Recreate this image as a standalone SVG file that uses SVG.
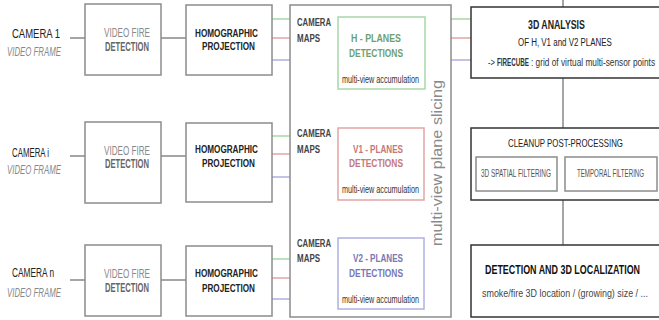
<svg xmlns="http://www.w3.org/2000/svg" width="659" height="320" viewBox="0 0 659 320">
<style>
text{font-family:"Liberation Sans",Arial,sans-serif;fill:#333}
.cam{font-size:12px;fill:#222}
.vf{font-size:12px;font-style:italic;fill:#888}
.box{fill:#fff;stroke:#8c8c8c;stroke-width:1.5}
.rbox{fill:#fff;stroke:#333;stroke-width:1.5}
.l1{font-size:12px;fill:#8a8a8a}
.b1{font-size:12px;font-weight:bold;fill:#666}
.hb{font-size:11.5px;font-weight:bold;fill:#222}
.mp{font-size:11px;font-weight:bold;fill:#444}
.acc{font-size:10px;fill:#333}
.g{stroke:#a8d8a8}
.r{stroke:#e3a5a5}
.b{stroke:#b0b0e0}
.conn{stroke:#888;stroke-width:1.5;fill:none}
</style>
<g id="connectors" fill="none">
<path class="conn" d="M70 38H85M161 38H186M70 156H85M161 156H186M70 280H85M161 280H186"/>
<path class="conn" d="M326 39H334M326 149H334M326 258H334" stroke="#333"/>
<path class="conn" d="M563 0V7M563 78V128M563 200V245" stroke="#777"/>
<g stroke-width="1.5">
<path class="g" d="M272 19H290M451 19H471M272 136H290M272 259H290"/>
<path class="r" d="M272 38H290M451 38H471M272 154H290M272 278H290"/>
<path class="b" d="M272 60H290M451 60H471M272 177H290M272 299H290"/>
</g>
</g>
<g id="camera1"><text class="cam" x="12" y="38" textLength="48" lengthAdjust="spacingAndGlyphs">CAMERA 1</text><text class="vf" x="7" y="56" textLength="54" lengthAdjust="spacingAndGlyphs">VIDEO FRAME</text></g>
<g id="camerai"><text class="cam" x="12" y="157" textLength="37" lengthAdjust="spacingAndGlyphs">CAMERA i</text><text class="vf" x="7" y="174" textLength="54" lengthAdjust="spacingAndGlyphs">VIDEO FRAME</text></g>
<g id="cameran"><text class="cam" x="12" y="277" textLength="42" lengthAdjust="spacingAndGlyphs">CAMERA n</text><text class="vf" x="7" y="297" textLength="54" lengthAdjust="spacingAndGlyphs">VIDEO FRAME</text></g>
<g id="vfd1"><rect class="box" x="85" y="4" width="76" height="71"/><text class="l1" x="104" y="37" textLength="46" lengthAdjust="spacingAndGlyphs">VIDEO FIRE</text><text class="b1" x="105" y="51" textLength="44" lengthAdjust="spacingAndGlyphs">DETECTION</text></g>
<g id="vfdi"><rect class="box" x="85" y="122" width="76" height="81"/><text class="l1" x="104" y="155" textLength="46" lengthAdjust="spacingAndGlyphs">VIDEO FIRE</text><text class="b1" x="105" y="168" textLength="44" lengthAdjust="spacingAndGlyphs">DETECTION</text></g>
<g id="vfdn"><rect class="box" x="85" y="245" width="76" height="71"/><text class="l1" x="104" y="278" textLength="46" lengthAdjust="spacingAndGlyphs">VIDEO FIRE</text><text class="b1" x="105" y="292" textLength="44" lengthAdjust="spacingAndGlyphs">DETECTION</text></g>
<g id="homo1"><rect class="box" x="186" y="5" width="86" height="70"/><text class="hb" x="195" y="37" textLength="63" lengthAdjust="spacingAndGlyphs">HOMOGRAPHIC</text><text class="hb" x="202" y="50" textLength="53" lengthAdjust="spacingAndGlyphs">PROJECTION</text></g>
<g id="homoi"><rect class="box" x="186" y="123" width="86" height="79"/><text class="hb" x="195" y="153" textLength="63" lengthAdjust="spacingAndGlyphs">HOMOGRAPHIC</text><text class="hb" x="202" y="167" textLength="53" lengthAdjust="spacingAndGlyphs">PROJECTION</text></g>
<g id="homon"><rect class="box" x="186" y="246" width="86" height="70"/><text class="hb" x="195" y="277" textLength="63" lengthAdjust="spacingAndGlyphs">HOMOGRAPHIC</text><text class="hb" x="202" y="292" textLength="53" lengthAdjust="spacingAndGlyphs">PROJECTION</text></g>
<g id="slicing"><rect class="box" x="290" y="5" width="161" height="312"/><text x="0" y="0" transform="translate(442 163) rotate(-90)" text-anchor="middle" font-size="14" textLength="166" lengthAdjust="spacingAndGlyphs" style="fill:#8a8a8a">multi-view plane slicing</text></g>
<g id="maps1"><text class="mp" x="297" y="26" textLength="34" lengthAdjust="spacingAndGlyphs">CAMERA</text><text class="mp" x="297" y="42" textLength="23" lengthAdjust="spacingAndGlyphs">MAPS</text></g>
<g id="mapsi"><text class="mp" x="297" y="137" textLength="34" lengthAdjust="spacingAndGlyphs">CAMERA</text><text class="mp" x="297" y="153" textLength="23" lengthAdjust="spacingAndGlyphs">MAPS</text></g>
<g id="mapsn"><text class="mp" x="297" y="247" textLength="34" lengthAdjust="spacingAndGlyphs">CAMERA</text><text class="mp" x="297" y="262" textLength="23" lengthAdjust="spacingAndGlyphs">MAPS</text></g>
<g id="hplanes"><rect x="338" y="17" width="87" height="72" fill="#fff" stroke="#a8d8a8" stroke-width="1.5"/><text x="351" y="42" font-size="11.5" font-weight="bold" style="fill:#6f9f6f" textLength="50" lengthAdjust="spacingAndGlyphs">H - PLANES</text><text x="349" y="57" font-size="11.5" font-weight="bold" style="fill:#6f9f6f" textLength="54" lengthAdjust="spacingAndGlyphs">DETECTIONS</text><text class="acc" x="342" y="83" textLength="77" lengthAdjust="spacingAndGlyphs">multi-view accumulation</text></g>
<g id="v1planes"><rect x="338" y="128" width="86" height="72" fill="#fff" stroke="#e3a5a5" stroke-width="1.5"/><text x="353" y="153" font-size="11.5" font-weight="bold" style="fill:#c47878" textLength="50" lengthAdjust="spacingAndGlyphs">V1 - PLANES</text><text x="349" y="167" font-size="11.5" font-weight="bold" style="fill:#c47878" textLength="54" lengthAdjust="spacingAndGlyphs">DETECTIONS</text><text class="acc" x="342" y="193" textLength="77" lengthAdjust="spacingAndGlyphs">multi-view accumulation</text></g>
<g id="v2planes"><rect x="338" y="238" width="86" height="71" fill="#fff" stroke="#b0b0e0" stroke-width="1.5"/><text x="353" y="262" font-size="11.5" font-weight="bold" style="fill:#7878b4" textLength="50" lengthAdjust="spacingAndGlyphs">V2 - PLANES</text><text x="349" y="277" font-size="11.5" font-weight="bold" style="fill:#7878b4" textLength="54" lengthAdjust="spacingAndGlyphs">DETECTIONS</text><text class="acc" x="342" y="303" textLength="77" lengthAdjust="spacingAndGlyphs">multi-view accumulation</text></g>
<g id="analysis"><rect class="rbox" x="471" y="7" width="190" height="71"/>
<text transform="translate(528 29) scale(0.72 1)" x="0" y="0" font-size="12" font-weight="bold" style="fill:#222" textLength="79" lengthAdjust="spacingAndGlyphs">3D ANALYSIS</text>
<text transform="translate(518 46) scale(0.69 1)" x="0" y="0" font-size="11.5" style="fill:#222" textLength="136" lengthAdjust="spacingAndGlyphs">OF H, V1 and V2 PLANES</text>
<text transform="translate(488 66) scale(0.75 1)" x="0" y="0" font-size="10.5" style="fill:#333" textLength="9.3" lengthAdjust="spacingAndGlyphs">-&gt;</text>
<text transform="translate(497 66) scale(0.62 1)" x="0" y="0" font-size="10.5" font-weight="bold" style="fill:#333" textLength="51.6" lengthAdjust="spacingAndGlyphs">FIRECUBE</text>
<text transform="translate(531 66) scale(0.79 1)" x="0" y="0" font-size="10.5" style="fill:#333" textLength="157" lengthAdjust="spacingAndGlyphs">: grid of virtual multi-sensor points</text></g>
<g id="cleanup"><rect class="rbox" x="471" y="128" width="190" height="72"/>
<text transform="translate(508 147) scale(0.68 1)" x="0" y="0" font-size="11.5" style="fill:#222" textLength="169" lengthAdjust="spacingAndGlyphs">CLEANUP POST-PROCESSING</text>
<rect class="box" x="476" y="157" width="81" height="34" stroke-width="1"/>
<text transform="translate(481 177) scale(0.63 1)" x="0" y="0" font-size="10" style="fill:#555" textLength="111" lengthAdjust="spacingAndGlyphs">3D SPATIAL FILTERING</text>
<rect class="box" x="565" y="157" width="92" height="34" stroke-width="1"/>
<text transform="translate(577 177) scale(0.61 1)" x="0" y="0" font-size="10" style="fill:#555" textLength="110" lengthAdjust="spacingAndGlyphs">TEMPORAL FILTERING</text></g>
<g id="localization"><rect class="rbox" x="471" y="245" width="190" height="72"/>
<text transform="translate(485 274) scale(0.74 1)" x="0" y="0" font-size="12" font-weight="bold" style="fill:#111" textLength="209.5" lengthAdjust="spacingAndGlyphs">DETECTION AND 3D LOCALIZATION</text>
<text transform="translate(482 297) scale(0.85 1)" x="0" y="0" font-size="10.5" style="fill:#444" textLength="195.3" lengthAdjust="spacingAndGlyphs">smoke/fire 3D location / (growing) size / ...</text></g>
</svg>
